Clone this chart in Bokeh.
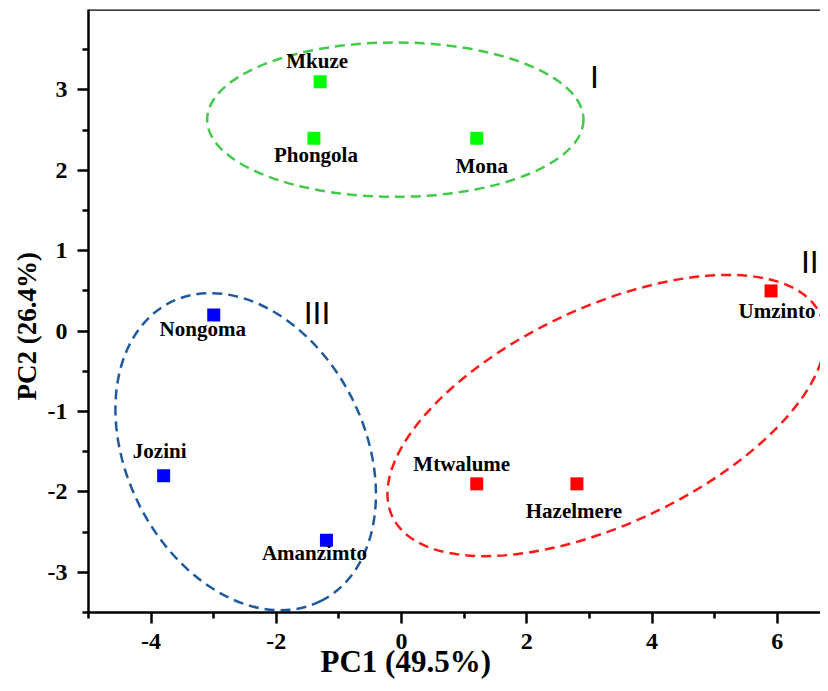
import math
from bokeh.plotting import figure
from bokeh.models import (ColumnDataSource, FixedTicker, Span, Range1d, Title,
                          CustomJSTickFormatter)
from bokeh.core.properties import value
from bokeh.embed import file_html
from bokeh.resources import INLINE

# ---- data ----
sites = ["Mkuze", "Phongola", "Mona", "Umzinto", "Mtwalume", "Hazelmere",
         "Nongoma", "Jozini", "Amanzimto"]
pc1 = [-1.3, -1.4, 1.2, 5.9, 1.2, 2.8, -3.0, -3.8, -1.2]
pc2 = [3.1, 2.4, 2.4, 0.5, -1.9, -1.9, 0.2, -1.8, -2.6]
group = ["I", "I", "I", "II", "II", "II", "III", "III", "III"]

# cluster ellipses (centre, size in axis units, rotation in degrees)
clusters = ["I", "II", "III"]
ell_cx = [-0.10, 3.27, -2.49]
ell_cy = [2.63, -1.05, -1.50]
ell_w = [6.01, 7.56, 5.34]
ell_h = [1.92, 2.69, 2.96]
ell_angle_deg = [0.0, 25.3, -63.2]
numeral_x = [3.08, 6.52, -1.35]
numeral_y = [3.16, 0.86, 0.23]

x_major_ticks = [-4, -2, 0, 2, 4, 6]
x_minor_ticks = [-5, -3, -1, 1, 3, 5]
y_major_ticks = [-3, -2, -1, 0, 1, 2, 3]
y_minor_ticks = [-3.5, -2.5, -1.5, -0.5, 0.5, 1.5, 2.5, 3.5]

x_title = "PC1 (49.5%)"
y_title = "PC2 (26.4%)"

# ---- styles ----
point_colors = {"I": "#00ff00", "II": "#ff0000", "III": "#0000ff"}
ellipse_colors = {"I": "#44c94c", "II": "#ff1a1a", "III": "#1f5a9c"}
label_dx = [-3, 2, 5, 6, -15, -3, -11, -4, -12]
label_dy = [-21, 17, 28, 20, -20, 27, 14, -25, 13]

SERIF = "Liberation Serif"
SANS = "Liberation Sans"
W, H = 820, 685

p = figure(width=W, height=H, output_backend="svg", toolbar_location=None,
           x_range=Range1d(-5, 6.69), y_range=Range1d(-3.5, 4.0),
           min_border_left=88, min_border_right=0, min_border_top=9,
           min_border_bottom=73)
p.outline_line_color = None
p.xgrid.visible = False
p.ygrid.visible = False
p.background_fill_color = "white"
p.border_fill_color = "white"

fmt = CustomJSTickFormatter(code="return String(tick);")
for ax, mj, mn in ((p.xaxis[0], x_major_ticks, x_minor_ticks),
                   (p.yaxis[0], y_major_ticks, y_minor_ticks)):
    ax.ticker = FixedTicker(ticks=mj, minor_ticks=mn)
    ax.formatter = fmt
    ax.axis_line_width = 2.5
    ax.axis_line_color = "black"
    ax.major_tick_line_width = 2.5
    ax.minor_tick_line_width = 2.5
    ax.major_tick_in = 0
    ax.major_tick_out = 11
    ax.minor_tick_in = 0
    ax.minor_tick_out = 6
    ax.major_label_text_font = SERIF
    ax.major_label_text_font_style = "bold"
    ax.major_label_text_font_size = "24px"
    ax.major_label_text_color = "black"
    ax.major_label_standoff = 10

# axis titles, placed as in the original
p.add_layout(Title(text=x_title, align="left", offset=232, vertical_align="top",
                   standoff=-16, text_font=SERIF, text_font_style="bold",
                   text_font_size="31px", text_color="black"), "below")
p.add_layout(Title(text=y_title, align="left", offset=212, vertical_align="bottom",
                   standoff=6, text_font=SERIF, text_font_style="bold",
                   text_font_size="27px", text_color="black"), "left")

# top frame line
p.add_layout(Span(location=4.0, dimension="width", line_color="black", line_width=2.5))

# ellipses
esrc = ColumnDataSource(dict(
    x=ell_cx, y=ell_cy, w=ell_w, h=ell_h,
    a=[math.radians(d) for d in ell_angle_deg],
    c=[ellipse_colors[k] for k in clusters]))
p.ellipse(x="x", y="y", width="w", height="h", angle="a", source=esrc,
          fill_color=None, line_color="c", line_width=2.5, line_dash="10 6")

# points
src = ColumnDataSource(dict(x=pc1, y=pc2, name=sites,
                            c=[point_colors[g] for g in group],
                            dx=label_dx, dy=label_dy))
p.scatter(x="x", y="y", source=src, marker="square", size=13,
          fill_color="c", line_color="c", line_width=0)
p.text(x="x", y="y", text="name", source=src, x_offset="dx", y_offset="dy",
       text_font=value(SERIF), text_font_style="bold", text_font_size="21px",
       text_align="center", text_baseline="middle", text_color="black")

# cluster numerals
nsrc = ColumnDataSource(dict(x=numeral_x, y=numeral_y, t=clusters))
p.text(x="x", y="y", text="t", source=nsrc, text_font=value(SANS),
       text_font_size="32px", text_align="center", text_baseline="middle",
       text_color="black")

open("out.html", "w").write(file_html(p, INLINE))
